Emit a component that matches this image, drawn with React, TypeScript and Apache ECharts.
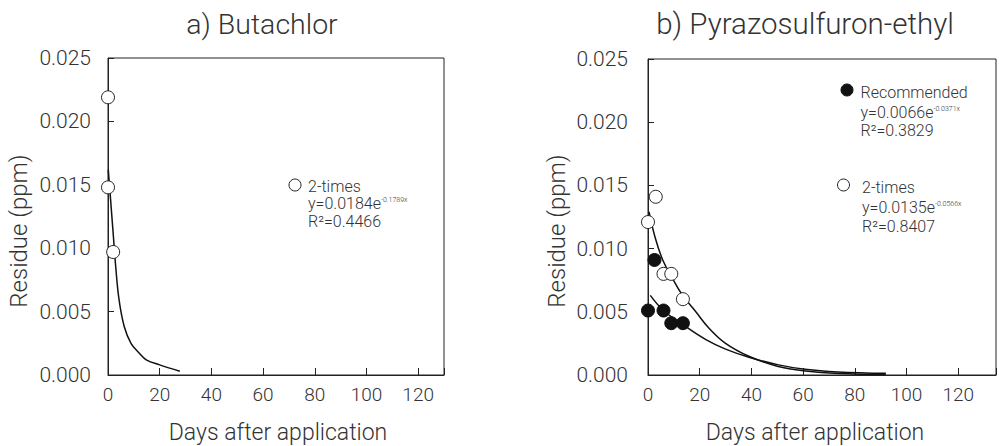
import React, { useEffect, useRef } from "react";
import * as echarts from "echarts";

// ---------- data ----------
const xTickStep = 20;
const yTickStep = 0.005;

// a) Butachlor (2-times)
const butaDays = [0, 0, 2];
const butaResidue = [0.0219, 0.0148, 0.0097];
const butaFitDays = [0.1, 1.2, 2.1, 3.0, 4.3, 6.3, 8.9, 12.2, 14.8, 20, 27.8];
const butaFitResidue = [0.0162, 0.0133, 0.0109, 0.0085, 0.0059, 0.0038, 0.0025, 0.0017, 0.0012, 0.0008, 0.0003];

// b) Pyrazosulfuron-ethyl
const pyrRecDays = [0, 2.5, 6, 9, 13.5];
const pyrRecResidue = [0.0051, 0.0091, 0.0051, 0.0041, 0.0041];
const pyr2xDays = [0, 3, 6, 9, 13.5];
const pyr2xResidue = [0.0121, 0.0141, 0.008, 0.008, 0.006];
const pyrRecFitDays = [0.9, 6, 13.4, 22.4, 30, 39, 50.5, 60.7, 73.5, 92];
const pyrRecFitResidue = [0.0063, 0.0051, 0.004, 0.0028, 0.00205, 0.00141, 0.0008, 0.00045, 0.00024, 0.00013];
const pyr2xFitDays = [0.4, 2.6, 5.7, 9.6, 13.4, 18.5, 23.6, 30, 39, 50, 61, 74, 92];
const pyr2xFitResidue = [0.0129, 0.011, 0.0091, 0.0076, 0.0063, 0.005, 0.0037, 0.0025, 0.00148, 0.0007, 0.00032, 0.00012, 0.00004];

const titles = ["a) Butachlor", "b) Pyrazosulfuron-ethyl"];
const yName = "Residue (ppm)";
const xName = "Days after application";

const FONT = "Roboto, 'Liberation Sans', sans-serif";
const W = 300;
const INK = "#222";
const TXT = "#333";

const zip = (a: number[], b: number[]) => a.map((v, i) => [v, b[i]]);

export default function App() {
  const ref = useRef<HTMLDivElement>(null);
  useEffect(() => {
    document.body.style.margin = "0";
    const chart = echarts.init(ref.current!, undefined, { renderer: "svg" });

    const xAxisBase = (gridIndex: number, max: number) => ({
      type: "value" as const,
      gridIndex,
      min: 0,
      max,
      interval: xTickStep,
      axisLine: { show: true, lineStyle: { color: INK, width: 1 } },
      axisTick: { show: true, inside: true, length: 7, lineStyle: { color: INK } },
      splitLine: { show: false },
      axisLabel: {
        color: TXT,
        fontFamily: FONT,
        fontWeight: W,
        fontSize: 19,
        margin: 10,
        formatter: (v: number) => (Math.abs(v % xTickStep) < 1e-9 ? String(v) : ""),
      },
    });
    const yAxisBase = (gridIndex: number, margin: number) => ({
      type: "value" as const,
      gridIndex,
      min: 0,
      max: 0.025,
      interval: yTickStep,
      axisLine: { show: true, lineStyle: { color: INK, width: 1 } },
      axisTick: { show: true, inside: true, length: 6, lineStyle: { color: INK } },
      splitLine: { show: false },
      axisLabel: {
        color: TXT,
        fontFamily: FONT,
        fontWeight: W,
        fontSize: 21,
        margin,
        formatter: (v: number) => v.toFixed(3),
      },
    });

    const openCircle = {
      symbol: "circle",
      symbolSize: 13,
      itemStyle: { color: "#fff", borderColor: INK, borderWidth: 1, opacity: 1 },
    };
    const filledCircle = {
      symbol: "circle",
      symbolSize: 13,
      itemStyle: { color: "#111", borderColor: "#111", borderWidth: 1, opacity: 1 },
    };
    const fitLine = {
      type: "line" as const,
      smooth: 0.4,
      showSymbol: false,
      symbol: "none",
      lineStyle: { color: "#111", width: 1.5 },
      z: 2,
    };

    const legendText = (x: number, y: number, text: string) => ({
      type: "text",
      x,
      y,
      style: {
        text,
        fill: TXT,
        font: `${W} 16px ${FONT}`,
        verticalAlign: "middle",
        rich: {
          n: { fontSize: 16, fontFamily: FONT, fontWeight: W, fill: TXT, lineHeight: 14 },
          s: { fontSize: 7, fontFamily: FONT, fontWeight: W, fill: TXT, verticalAlign: "top", lineHeight: 14 },
        },
      },
    });
    const label = (x: number, y: number, text: string, size: number, rotation = 0) => ({
      type: "text",
      x,
      y,
      rotation,
      style: { text, fill: TXT, font: `${W} ${size}px ${FONT}`, align: "center", verticalAlign: "middle" },
    });

    chart.setOption({
      animation: false,
      backgroundColor: "#fff",
      grid: [
        { left: 108, top: 58, width: 336, height: 317, show: true, borderColor: INK, borderWidth: 1, backgroundColor: "transparent" },
        { left: 648, top: 59, width: 350, height: 316, show: true, borderColor: INK, borderWidth: 1, backgroundColor: "transparent" },
      ],
      xAxis: [xAxisBase(0, 130), xAxisBase(1, 134.6)],
      yAxis: [yAxisBase(0, 17), yAxisBase(1, 20)],
      series: [
        { ...fitLine, name: "Butachlor fit", xAxisIndex: 0, yAxisIndex: 0, data: zip(butaFitDays, butaFitResidue) },
        { type: "scatter", name: "Butachlor 2-times", xAxisIndex: 0, yAxisIndex: 0, ...openCircle, z: 3, data: zip(butaDays, butaResidue) },
        { ...fitLine, name: "Recommended fit", xAxisIndex: 1, yAxisIndex: 1, data: zip(pyrRecFitDays, pyrRecFitResidue) },
        { ...fitLine, name: "2-times fit", xAxisIndex: 1, yAxisIndex: 1, data: zip(pyr2xFitDays, pyr2xFitResidue) },
        { type: "scatter", name: "Recommended", xAxisIndex: 1, yAxisIndex: 1, ...filledCircle, z: 3, data: zip(pyrRecDays, pyrRecResidue) },
        { type: "scatter", name: "2-times", xAxisIndex: 1, yAxisIndex: 1, ...openCircle, z: 3, data: zip(pyr2xDays, pyr2xResidue) },
      ],
      graphic: [
        label(262, 24, titles[0], 28.5),
        label(805, 24, titles[1], 29.5),
        label(19, 231, yName, 24, Math.PI / 2),
        label(557, 231, yName, 24, Math.PI / 2),
        label(278, 432, xName, 23),
        label(815, 432, xName, 23),
        // legend a)
        { type: "circle", shape: { cx: 295, cy: 185, r: 6 }, style: { fill: "#fff", stroke: INK, lineWidth: 1 } },
        legendText(308, 186, "{n|2-times}"),
        legendText(308, 203.8, "{n|y=0.0184e}{s|-0.1789x}"),
        legendText(308, 221.8, "{n|R²=0.4466}"),
        // legend b)
        { type: "circle", shape: { cx: 847, cy: 90, r: 6 }, style: { fill: "#111", stroke: "#111", lineWidth: 1 } },
        legendText(860.5, 92.5, "{n|Recommended}"),
        legendText(860.5, 112, "{n|y=0.0066e}{s|-0.0371x}"),
        legendText(860.5, 130, "{n|R²=0.3829}"),
        { type: "circle", shape: { cx: 843.5, cy: 185, r: 6 }, style: { fill: "#fff", stroke: INK, lineWidth: 1 } },
        legendText(862, 187, "{n|2-times}"),
        legendText(862, 207, "{n|y=0.0135e}{s|-0.0566x}"),
        legendText(862, 226.5, "{n|R²=0.8407}"),
      ],
    });
    return () => chart.dispose();
  }, []);
  return <div ref={ref} style={{ width: 999, height: 446 }} />;
}
